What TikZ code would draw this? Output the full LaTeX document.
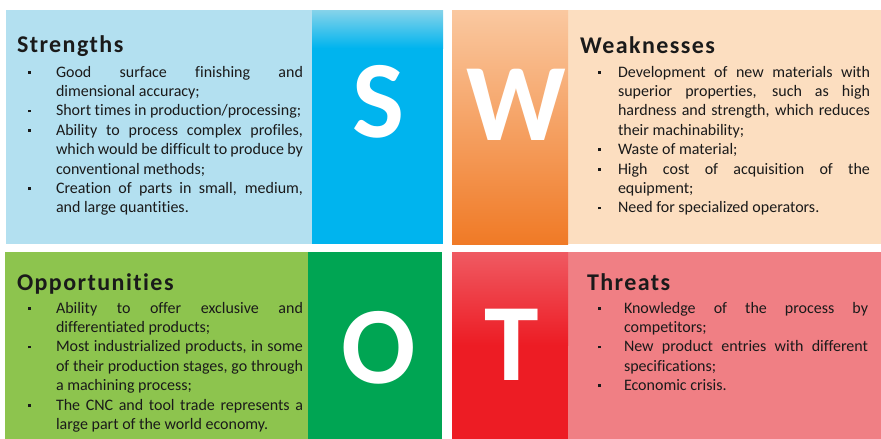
\documentclass[tikz,border=0pt]{standalone}
\usepackage{fontspec}
\setmainfont{Carlito}[Ligatures=NoCommon]
\usetikzlibrary{positioning}

\definecolor{sbg}{HTML}{B3E0F0}
\definecolor{scol}{HTML}{00B4EE}
\definecolor{stop}{HTML}{86D3EA}
\definecolor{wbg}{HTML}{FCDEC0}
\definecolor{wtop}{HTML}{FAC8A0}
\definecolor{wbot}{HTML}{F07A26}
\definecolor{obg}{HTML}{8DC44E}
\definecolor{ocol}{HTML}{00A553}
\definecolor{tbg}{HTML}{F07F84}
\definecolor{tcol}{HTML}{ED1C24}
\definecolor{ttop}{HTML}{EF5A62}
\definecolor{txt}{HTML}{1A1A1A}

% small square bullet and a hanging item
\newlength{\itmind}
\newcommand{\bul}{\rule[3.4pt]{2.8pt}{2.8pt}}
\newcommand{\itm}[1]{\hangindent=\itmind\hangafter=1\makebox[\itmind][l]{\bul}#1\par}
\tolerance=9999
\hbadness=10000
\hyphenpenalty=10000

\begin{document}
\begin{tikzpicture}[x=1pt,y=-1pt,
  every node/.style={inner sep=0pt,outer sep=0pt,text=txt},
  head/.style={anchor=base west,font=\fontsize{24}{28}\selectfont\bfseries\addfontfeature{LetterSpace=6}},
  ind/.code={\setlength{\itmind}{#1}},
  pts/.style={anchor=base west,align=justify,text width=#1,font=\fontsize{16}{19.4}\selectfont},
  letter/.style={anchor=base,text=white,font=\fontsize{110}{110}\selectfont\bfseries}]
\useasboundingbox (0,0) rectangle (881,439);
% the four quadrants and their letter columns
\foreach \xa/\ya/\xb/\yb/\c in {6/10/312/244/sbg, 312/10/443/244/scol,
    568/10/881/244/wbg, 5/252/308/439/obg, 308/252/442/439/ocol,
    568/252/881/439/tbg, 452/252/568/439/tcol}
  \fill[\c] (\xa,\ya) rectangle (\xb,\yb);
\shade[top color=stop,bottom color=scol] (312,10) rectangle (443,48);
\shade[top color=wtop,bottom color=wbot] (452,10) rectangle (568,244);
\shade[top color=ttop,bottom color=tcol] (452,252) rectangle (568,345);

\node[letter] (s) at (378,137) {S};
\node[letter] (w) at (516,140) {W};
\node[letter] (o) at (379,383) {O};
\node[letter] (t) at (512,380) {T};

\node[head] (sh) at (17,52) {Strengths};
\node[head] (wh) at (580,53) {Weaknesses};
\node[head] (oh) at (17,290) {Opportunities};
\node[head] (th) at (587,290) {Threats};

\node[pts=275pt,ind=28pt] (sl) at (28,77) {%
  \itm{Good surface finishing and\linebreak dimensional accuracy;}%
  \itm{Short times in production/processing;}%
  \itm{Ability to process complex profiles,\linebreak which would be difficult to produce by\linebreak conventional methods;}%
  \itm{Creation of parts in small, medium,\linebreak and large quantities.}};
\node[pts=272pt,ind=20pt] (wl) at (598,77) {%
  \itm{Development of new materials with\linebreak superior properties, such as high\linebreak hardness and strength, which reduces\linebreak their machinability;}%
  \itm{Waste of material;}%
  \itm{High cost of acquisition of the\linebreak equipment;}%
  \itm{Need for specialized operators.}};
\node[pts=275pt,ind=28pt] (ol) at (28,313) {%
  \itm{Ability to offer exclusive and\linebreak differentiated products;}%
  \itm{Most industrialized products, in some\linebreak of their production stages, go through\linebreak a machining process;}%
  \itm{The CNC and tool trade represents a\linebreak large part of the world economy.}};
\node[pts=270pt,ind=26pt] (tl) at (598,313) {%
  \itm{Knowledge of the process by\linebreak competitors;}%
  \itm{New product entries with different\linebreak specifications;}%
  \itm{Economic crisis.}};
\end{tikzpicture}
\end{document}
